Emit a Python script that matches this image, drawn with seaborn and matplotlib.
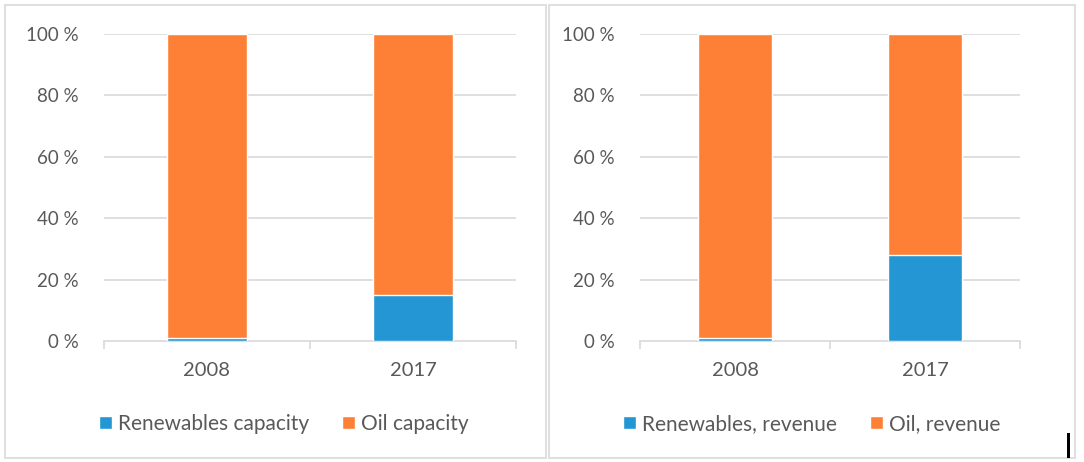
import pandas as pd
import numpy as np
import matplotlib
matplotlib.use("Agg")
import matplotlib.pyplot as plt
from matplotlib.patches import Rectangle, Patch
import seaborn as sns

years = ["2008", "2017"]
renew_capacity = [1, 15]
renew_revenue = [1, 28]
left_labels = ["Renewables capacity", "Oil capacity"]
right_labels = ["Renewables, revenue", "Oil, revenue"]

BLUE = "#2596D4"
ORANGE = "#FE7F36"
GRID = "#D9D9D9"
TEXT = "#595959"

sns.set_theme(style="white")
plt.rcParams["font.family"] = ["Lato", "DejaVu Sans"]

fig = plt.figure(figsize=(10.84, 4.62), dpi=100)

# panel frames
for x0, w in [(0.005, 0.499), (0.506, 0.486)]:
    fig.patches.append(Rectangle((x0, 0.008), w, 0.982, transform=fig.transFigure,
                                 fill=False, edgecolor=GRID, linewidth=1.2))

ax1 = fig.add_axes([0.0959, 0.2619, 0.3801, 0.6645])
ax2 = fig.add_axes([0.5904, 0.2619, 0.3506, 0.6645])


def draw(ax, renew, labels, legend_x):
    df = pd.DataFrame({"year": years, "renew": renew})
    df["total"] = 100
    sns.barplot(data=df, x="year", y="total", color=ORANGE, width=0.39,
                saturation=1, ax=ax, zorder=2)
    sns.barplot(data=df, x="year", y="renew", color=BLUE, width=0.39,
                saturation=1, ax=ax, zorder=3)
    ax.set_ylim(0, 100)
    ax.set_xlim(-0.5, 1.5)
    ax.set_yticks(np.arange(0, 101, 20))
    ax.set_yticklabels([f"{v} %" for v in range(0, 101, 20)])
    ax.set_xlabel("")
    ax.set_ylabel("")
    for v in range(20, 101, 20):
        ax.axhline(v, color=GRID, linewidth=1.2, zorder=1)
    for s in ["top", "right", "left"]:
        ax.spines[s].set_visible(False)
    ax.spines["bottom"].set_color(GRID)
    ax.spines["bottom"].set_linewidth(1.2)
    ax.set_xticks([-0.5, 0.5, 1.5], minor=True)
    ax.tick_params(axis="x", which="minor", length=6, color=GRID, width=1.2,
                   bottom=True)
    ax.tick_params(axis="x", which="major", length=0, pad=15,
                   labelsize=14.5, labelcolor=TEXT)
    ax.tick_params(axis="y", length=0, pad=18, labelsize=13.5, labelcolor=TEXT)
    handles = [Patch(facecolor=BLUE, label=labels[0]),
               Patch(facecolor=ORANGE, label=labels[1])]
    fig.legend(handles=handles, loc="center", bbox_to_anchor=(legend_x, 0.083),
               ncol=2, frameon=False, fontsize=15, labelcolor=TEXT,
               handlelength=0.6, handleheight=0.6, handletextpad=0.3,
               columnspacing=1.6)


draw(ax1, renew_capacity, left_labels, 0.262)
draw(ax2, renew_revenue, right_labels, 0.749)

# small cursor artefact at lower right
fig.patches.append(Rectangle((0.984, 0.008), 0.003, 0.055, transform=fig.transFigure,
                             facecolor="black", edgecolor="none"))

fig.savefig("out.png", dpi=100)
